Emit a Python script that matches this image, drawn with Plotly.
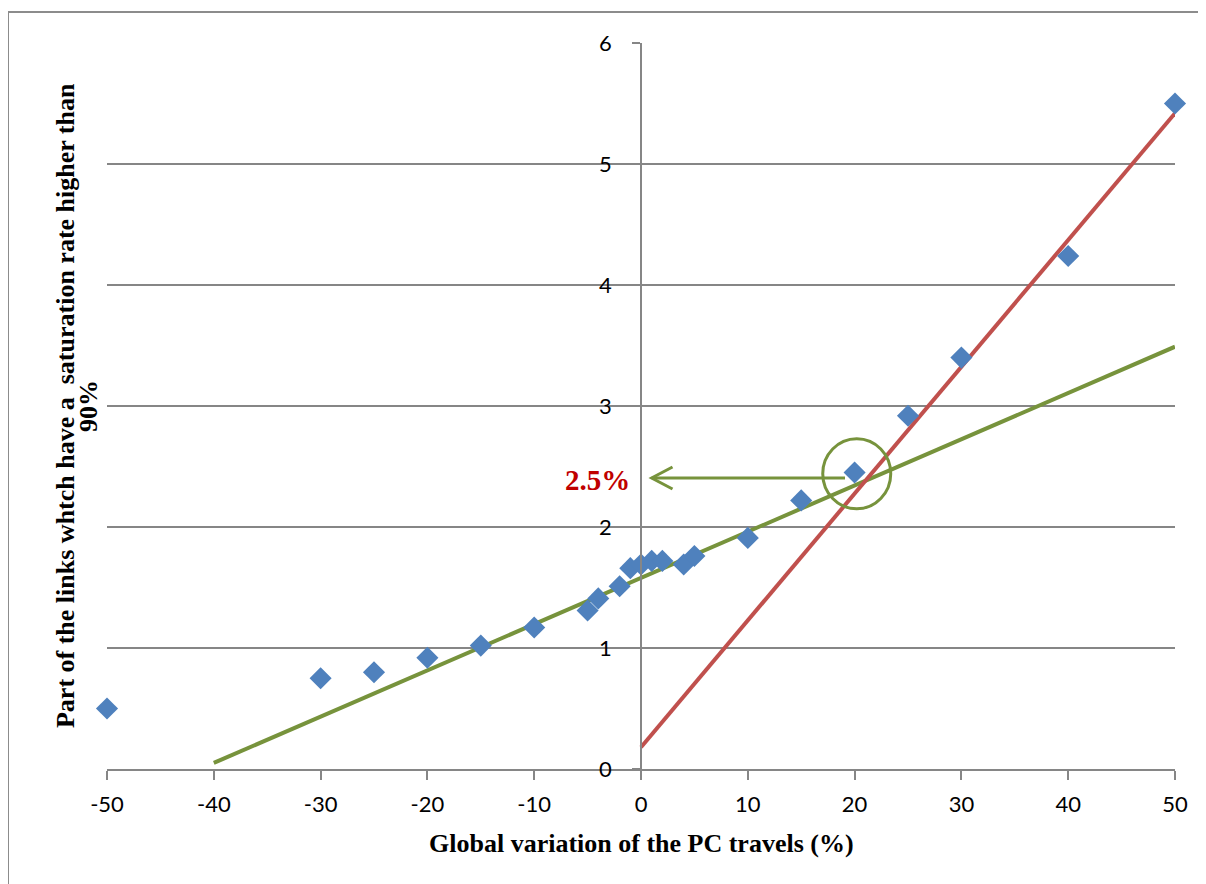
import plotly.graph_objects as go

# Data
variation = [-50, -30, -25, -20, -15, -10, -5, -4, -2, -1, 0, 1, 2, 4, 5, 10, 15, 20, 25, 30, 40, 50]
share = [0.50, 0.75, 0.80, 0.92, 1.02, 1.17, 1.31, 1.41, 1.51, 1.66, 1.69, 1.72, 1.72, 1.69, 1.76,
         1.91, 2.22, 2.45, 2.92, 3.40, 4.24, 5.50]

green_x = [-40, 50]
green_y = [0.05, 3.49]
red_x = [0, 50]
red_y = [0.18, 5.42]

x_ticks = [-50, -40, -30, -20, -10, 0, 10, 20, 30, 40, 50]
x_labels = ["-50", "-40", "-30", "-20", "-10", "0", "10", "20", "30", "40", "50"]
y_ticks = [0, 1, 2, 3, 4, 5, 6]

GRID = "#868686"
fig = go.Figure()
fig.add_trace(go.Scatter(x=green_x, y=green_y, mode="lines",
                         line=dict(color="#77933C", width=4), cliponaxis=False, hoverinfo="skip"))
fig.add_trace(go.Scatter(x=red_x, y=red_y, mode="lines",
                         line=dict(color="#C0504D", width=4), cliponaxis=False, hoverinfo="skip"))
fig.add_trace(go.Scatter(x=variation, y=share, mode="markers",
                         marker=dict(symbol="diamond", size=17, color="#4F81BD"), cliponaxis=False))

# highlight circle around the 20 % point
fig.add_shape(type="circle", xref="x", yref="y", xsizemode="pixel", ysizemode="pixel",
              xanchor=20.2, yanchor=2.44, x0=-34, x1=34, y0=-35, y1=35,
              line=dict(color="#77933C", width=3))
# arrow shaft
fig.add_shape(type="line", xref="x", yref="y", x0=19.1, y0=2.405, x1=1.0, y1=2.405,
              line=dict(color="#77933C", width=3))
# open arrow head
fig.add_shape(type="path", xref="x", yref="y",
              path="M 2.95,2.496 L 1.0,2.405 L 2.95,2.314",
              line=dict(color="#77933C", width=3))

fig.add_annotation(x=-4.1, y=2.39, xref="x", yref="y", text="<b>2.5%</b>", showarrow=False,
                   font=dict(family="Liberation Serif", size=29, color="#C00000"))

# y axis title, two lines
fig.add_annotation(x=-0.0393, y=0.5, xref="paper", yref="paper", textangle=-90,
                   xanchor="center", yanchor="middle",
                   text="<b>Part of the links whtch have a  saturation rate higher than</b>",
                   showarrow=False, font=dict(family="Liberation Serif", size=26, color="black"))
fig.add_annotation(x=-0.0178, y=0.5, xref="paper", yref="paper", textangle=-90,
                   xanchor="center", yanchor="middle",
                   text="<b>90%</b>",
                   showarrow=False, font=dict(family="Liberation Serif", size=26, color="black"))
fig.add_annotation(x=0.5, y=-0.102, xref="paper", yref="paper",
                   text="<b>Global variation of the PC travels (%)</b>", showarrow=False,
                   yanchor="middle", font=dict(family="Liberation Serif", size=26, color="black"))

# outer border (only top and left visible)
fig.add_shape(type="rect", xref="paper", yref="paper", x0=-0.0927, x1=1.2, y0=-0.3, y1=1.0427,
              line=dict(color="#8C8C8C", width=2), layer="below")

fig.update_layout(
    width=1206, height=884,
    margin=dict(l=99, r=39, t=35, b=123),
    paper_bgcolor="white", plot_bgcolor="white",
    showlegend=False,
    font=dict(family="Lato", size=22, color="black"),
    xaxis=dict(range=[-50, 50], tickvals=x_ticks, ticktext=x_labels, showgrid=False, zeroline=False,
               showline=True, linecolor=GRID, linewidth=1.5, ticks="outside", ticklen=9,
               tickcolor=GRID, tickwidth=1.5, ticklabelstandoff=6),
    yaxis=dict(range=[0, 6], tickvals=y_ticks, showgrid=True, gridcolor=GRID, gridwidth=1.5,
               zeroline=False, showline=True, linecolor=GRID, linewidth=1.5,
               anchor="free", position=0.5, ticks="outside", ticklen=8, tickcolor=GRID,
               tickwidth=1.5, ticklabelstandoff=16),
)

fig.write_html("out.html")
